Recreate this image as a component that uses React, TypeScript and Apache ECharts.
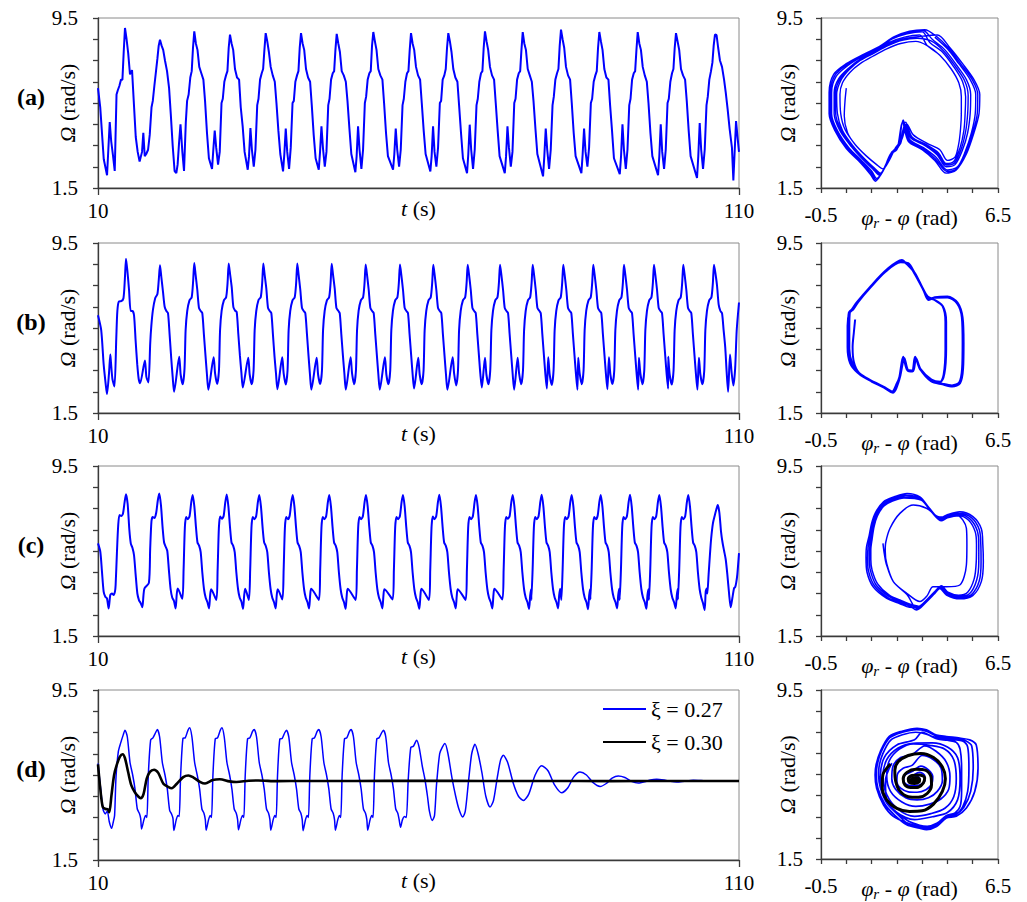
import React, { useEffect, useRef } from 'react';
import * as echarts from 'echarts';

const SERIF = 'Liberation Serif';
const BLUE = '#0000ff';
const BLACK = '#000000';

// ---------- axis ticks, labels and names ----------
const T_TICKS = [10, 110];
const OMEGA_TICKS = [1.5, 2.5, 3.5, 4.5, 5.5, 6.5, 7.5, 8.5, 9.5];
const OMEGA_LABELS = [1.5, 9.5];
const PHASE_TICKS = [-0.5, 0.5, 1.5, 2.5, 3.5, 4.5, 5.5, 6.5];
const PHASE_LABELS = [-0.5, 6.5];
const PANEL_LABELS = ['(a)', '(b)', '(c)', '(d)'];
const LEGEND_NAMES = ['ξ = 0.27', 'ξ = 0.30'];

// ---------- (a) Ω(t): each cycle is sampled at fixed offsets (s) around its peak ----------
const A_HEAD = [[10, 6.2], [10.35, 5.3], [10.9, 2.85]];
const A_OFFSETS = [-2.8, -2.6, -2.38, -2.15, -1.86, -1.6, -1.32, -1.12, -0.88, -0.62, -0.4, -0.2, 0, 0.25, 0.5, 0.78, 1.1, 1.42, 1.68, 1.98, 2.28];
const A_PEAK_T = [14.21, 19.67, 25.02, 30.59, 36.16, 41.67, 47.24, 52.95, 58.83, 64.65, 70.37, 76.26, 82.23, 88.21, 94.2, 100.17, 106.25];
const A_CYCLES = [
  [2.1, 3.3, 4.6, 3.7, 3.0, 2.3, 5.9, 6.1, 6.3, 6.6, 6.6, 7.9, 9.03, 8.5, 7.85, 6.85, 7.05, 5.3, 3.9, 3.2, 2.75],
  [3.2, 4.1, 3.0, 3.1, 3.3, 4.0, 5.3, 5.6, 6.3, 7.0, 7.6, 8.2, 8.48, 8.2, 8.0, 7.5, 7.0, 6.2, 5.0, 3.5, 2.3],
  [2.2, 2.6, 3.6, 4.5, 3.2, 2.3, 4.6, 5.6, 5.9, 6.7, 7.0, 8.1, 8.87, 8.3, 8.0, 7.2, 6.9, 6.6, 5.6, 4.1, 2.9],
  [2.4, 3.3, 4.2, 3.4, 2.6, 3.2, 5.5, 5.7, 6.5, 6.8, 7.0, 8.1, 8.72, 8.3, 8.0, 7.1, 6.7, 6.6, 5.3, 4.4, 3.2],
  [2.36, 3.0, 4.32, 3.3, 2.5, 3.3, 5.4, 5.7, 6.6, 6.9, 7.1, 8.0, 8.79, 8.4, 7.9, 7.2, 6.8, 6.5, 5.5, 4.2, 3.1],
  [2.28, 3.1, 4.3, 3.2, 2.4, 3.4, 5.5, 5.6, 6.5, 6.8, 7.0, 8.1, 8.79, 8.3, 8.0, 7.1, 6.7, 6.5, 5.4, 4.0, 2.9],
  [2.36, 3.2, 4.4, 3.4, 2.5, 3.2, 5.4, 5.7, 6.6, 6.9, 7.0, 8.0, 8.75, 8.3, 7.9, 7.0, 6.8, 6.5, 5.6, 4.3, 3.1],
  [2.24, 3.0, 4.4, 3.3, 2.4, 3.3, 5.5, 5.8, 6.6, 6.9, 7.0, 8.2, 8.84, 8.4, 8.0, 7.1, 6.8, 6.6, 5.5, 4.1, 3.0],
  [2.36, 3.1, 4.3, 3.3, 2.5, 3.3, 5.4, 5.7, 6.5, 6.9, 7.0, 8.0, 8.79, 8.3, 8.0, 7.2, 6.8, 6.6, 5.5, 4.2, 3.1],
  [2.28, 3.0, 4.4, 3.2, 2.5, 3.4, 5.5, 5.6, 6.6, 6.8, 7.1, 8.1, 8.79, 8.4, 7.9, 7.1, 6.7, 6.5, 5.4, 4.1, 2.9],
  [2.2, 3.1, 4.48, 3.3, 2.4, 3.3, 5.4, 5.7, 6.5, 6.9, 7.0, 8.1, 8.87, 8.4, 8.0, 7.2, 6.8, 6.6, 5.5, 4.2, 3.0],
  [2.2, 3.0, 4.4, 3.4, 2.5, 3.2, 5.5, 5.7, 6.6, 6.9, 7.0, 8.0, 8.84, 8.3, 8.0, 7.1, 6.8, 6.5, 5.6, 4.3, 3.1],
  [2.05, 3.0, 4.3, 3.3, 2.4, 3.3, 5.4, 5.8, 6.6, 6.9, 7.1, 8.2, 8.95, 8.5, 8.1, 7.2, 6.8, 6.6, 5.5, 4.1, 3.0],
  [2.2, 3.1, 4.3, 3.2, 2.5, 3.4, 5.5, 5.7, 6.5, 6.8, 7.0, 8.1, 8.84, 8.4, 8.0, 7.1, 6.7, 6.6, 5.4, 4.2, 2.9],
  [2.15, 3.0, 4.5, 3.3, 2.4, 3.3, 5.4, 5.7, 6.6, 6.9, 7.0, 8.0, 8.84, 8.3, 8.0, 7.2, 6.8, 6.5, 5.5, 4.1, 3.0],
  [2.1, 3.0, 4.5, 3.2, 2.4, 3.3, 5.5, 5.7, 6.5, 6.9, 7.1, 8.1, 8.79, 8.4, 8.0, 7.1, 6.8, 6.6, 5.6, 4.2, 3.0],
  [1.97, 3.0, 4.56, 3.3, 2.4, 3.3, 5.4, 5.8, 6.6, 7.0, 7.4, 8.2, 8.72, 8.7, 8.1, 7.5, 7.2, 6.6, 6.0, 5.2, 4.3],
];
const A_TAIL = [[108.9, 3.4], [109.12, 1.85], [109.54, 4.65], [109.8, 3.8], [110, 3.2]];

// ---------- (b) Ω(t) ----------
const B_HEAD = [[10, 6.1], [10.5, 5.4], [10.88, 3.8], [11.2, 2.86], [11.4, 2.39], [11.71, 3.34], [11.92, 4.25]];
const B_OFFSETS = [-2.35, -2.12, -1.8, -1.52, -1.35, -1.1, -0.75, -0.4, -0.18, 0, 0.21, 0.47, 0.73, 1.0, 1.25, 1.5, 1.75, 1.98, 2.2];
const B_PEAK_T = [14.37, 19.67, 25.02, 30.39, 35.79, 41.09, 46.46, 51.76, 57.11, 62.31, 67.68, 72.72, 77.82, 82.59, 87.27, 92.06, 96.74, 101.31, 106.1];
const B_CYCLES = [
  [3.9, 3.1, 2.75, 5.0, 6.3, 6.75, 6.76, 6.9, 7.8, 8.76, 8.2, 7.3, 6.3, 6.3, 6.1, 4.9, 3.8, 3.1, 2.9],
  [3.97, 3.2, 2.94, 4.8, 5.6, 6.35, 6.9, 7.1, 7.8, 8.45, 7.9, 7.2, 6.5, 6.3, 6.2, 5.2, 4.1, 3.2, 2.5],
  [4.15, 3.3, 2.85, 3.6, 5.4, 6.3, 6.8, 6.95, 7.7, 8.56, 8.0, 7.3, 6.45, 6.3, 6.2, 5.2, 4.2, 3.3, 2.6],
  [4.12, 3.35, 2.86, 3.5, 5.38, 6.32, 6.8, 6.95, 7.6, 8.53, 8.05, 7.42, 6.48, 6.32, 6.25, 5.22, 4.2, 3.4, 2.7],
  [4.1, 3.3, 2.85, 3.5, 5.4, 6.3, 6.82, 6.95, 7.6, 8.53, 8.0, 7.35, 6.45, 6.3, 6.2, 5.2, 4.15, 3.35, 2.62],
  [4.12, 3.35, 2.84, 3.5, 5.4, 6.3, 6.8, 6.95, 7.6, 8.53, 8.0, 7.3, 6.45, 6.3, 6.2, 5.25, 4.2, 3.3, 2.6],
  [4.1, 3.3, 2.86, 3.5, 5.4, 6.3, 6.8, 6.95, 7.6, 8.52, 8.0, 7.35, 6.45, 6.32, 6.2, 5.2, 4.2, 3.35, 2.6],
  [4.12, 3.35, 2.85, 3.5, 5.38, 6.32, 6.8, 6.95, 7.6, 8.49, 8.0, 7.3, 6.45, 6.3, 6.2, 5.2, 4.2, 3.3, 2.6],
  [4.12, 3.3, 2.85, 3.5, 5.4, 6.3, 6.8, 6.95, 7.6, 8.49, 8.0, 7.3, 6.45, 6.3, 6.2, 5.2, 4.2, 3.3, 2.65],
  [4.1, 3.3, 2.85, 3.5, 5.4, 6.3, 6.8, 6.95, 7.6, 8.48, 8.0, 7.3, 6.45, 6.3, 6.2, 5.2, 4.2, 3.3, 2.6],
  [4.12, 3.35, 2.8, 3.5, 5.4, 6.3, 6.8, 6.95, 7.6, 8.48, 8.0, 7.3, 6.45, 6.3, 6.2, 5.2, 4.2, 3.3, 2.7],
  [4.1, 3.3, 2.85, 3.55, 5.4, 6.3, 6.8, 6.95, 7.6, 8.48, 8.0, 7.3, 6.45, 6.3, 6.2, 5.2, 4.2, 3.3, 2.6],
  [4.1, 3.35, 2.85, 3.5, 5.38, 6.3, 6.8, 6.95, 7.6, 8.48, 8.0, 7.3, 6.45, 6.32, 6.2, 5.2, 4.2, 3.3, 2.65],
  [4.12, 3.3, 2.82, 3.5, 5.4, 6.3, 6.8, 6.95, 7.6, 8.48, 8.0, 7.3, 6.45, 6.3, 6.2, 5.2, 4.2, 3.3, 2.6],
  [4.1, 3.35, 2.85, 3.5, 5.4, 6.32, 6.8, 6.95, 7.6, 8.48, 8.0, 7.3, 6.45, 6.3, 6.2, 5.2, 4.2, 3.3, 2.62],
  [4.12, 3.3, 2.86, 3.5, 5.4, 6.3, 6.8, 6.95, 7.6, 8.48, 8.0, 7.3, 6.45, 6.3, 6.2, 5.2, 4.2, 3.3, 2.6],
  [4.1, 3.35, 2.85, 3.5, 5.4, 6.3, 6.8, 6.95, 7.6, 8.48, 8.0, 7.3, 6.45, 6.3, 6.2, 5.2, 4.2, 3.3, 2.65],
  [4.15, 3.3, 2.84, 3.5, 5.4, 6.3, 6.8, 6.95, 7.6, 8.48, 8.0, 7.3, 6.45, 6.3, 6.2, 5.2, 4.2, 3.3, 2.6],
  [4.1, 3.3, 2.85, 3.5, 5.4, 6.3, 6.8, 6.95, 7.6, 8.48, 8.1, 7.5, 6.6, 6.3, 6.2, 5.4, 4.6, 3.4, 2.5],
];
const B_TAIL = [[108.6, 4.25], [108.85, 3.4], [109.12, 2.79], [109.4, 3.6], [109.64, 5.38], [110, 6.7]];

// ---------- (c) Ω(t) ----------
const C_HEAD = [[10, 5.86], [10.36, 5.47], [10.62, 4.53], [10.88, 3.59], [11.14, 3.35], [11.4, 3.27], [11.66, 2.8], [11.92, 3.43], [12.18, 3.5], [12.44, 3.43], [12.65, 3.6]];
const C_OFFSETS = [-1.62, -1.42, -1.22, -1.02, -0.75, -0.48, -0.22, 0, 0.26, 0.52, 0.75, 1.0, 1.25, 1.5, 1.77, 2.03, 2.29, 2.55, 2.72, 2.88];
const C_PEAK_T = [14.37, 19.56, 24.77, 30.08, 35.16, 40.38, 46.08, 51.81, 57.58, 63.25, 68.97, 74.7, 79.22, 83.9, 88.43, 93.0, 97.57, 102.09, 106.68];
const C_CYCLES = [
  [3.9, 5.4, 6.7, 7.2, 7.15, 7.25, 7.8, 8.17, 7.7, 6.5, 5.85, 5.65, 5.3, 4.4, 3.5, 3.18, 3.05, 2.85, 3.4, 3.74],
  [4.0, 5.6, 6.9, 7.1, 7.05, 7.3, 7.9, 8.21, 7.66, 6.6, 5.9, 5.7, 5.5, 4.6, 3.7, 3.3, 3.15, 2.8, 3.45, 3.74],
  [3.25, 4.6, 6.6, 7.1, 7.0, 7.15, 7.8, 8.14, 7.6, 6.6, 5.9, 5.75, 5.45, 4.5, 3.7, 3.3, 3.1, 2.8, 3.4, 3.7],
  [3.2, 4.6, 6.6, 7.12, 7.02, 7.15, 7.8, 8.16, 7.6, 6.6, 5.9, 5.75, 5.45, 4.5, 3.7, 3.3, 3.12, 2.78, 3.4, 3.72],
  [3.2, 4.6, 6.6, 7.1, 7.0, 7.15, 7.8, 8.14, 7.6, 6.6, 5.92, 5.75, 5.45, 4.5, 3.7, 3.3, 3.1, 2.8, 3.4, 3.7],
  [3.22, 4.6, 6.6, 7.1, 7.0, 7.16, 7.8, 8.14, 7.6, 6.6, 5.9, 5.74, 5.45, 4.5, 3.7, 3.3, 3.1, 2.8, 3.42, 3.72],
  [3.2, 4.6, 6.6, 7.1, 7.0, 7.15, 7.8, 8.14, 7.6, 6.6, 5.9, 5.75, 5.45, 4.5, 3.7, 3.3, 3.1, 2.78, 3.4, 3.72],
  [3.2, 4.6, 6.6, 7.1, 7.0, 7.15, 7.8, 8.14, 7.6, 6.6, 5.9, 5.75, 5.45, 4.5, 3.7, 3.3, 3.1, 2.8, 3.4, 3.7],
  [3.22, 4.6, 6.6, 7.1, 7.0, 7.15, 7.8, 8.14, 7.6, 6.6, 5.9, 5.75, 5.45, 4.5, 3.7, 3.3, 3.1, 2.78, 3.4, 3.72],
  [3.2, 4.6, 6.6, 7.12, 7.0, 7.15, 7.8, 8.15, 7.6, 6.6, 5.9, 5.75, 5.45, 4.5, 3.7, 3.3, 3.1, 2.8, 3.4, 3.7],
  [3.2, 4.6, 6.6, 7.1, 7.0, 7.15, 7.8, 8.14, 7.6, 6.6, 5.9, 5.75, 5.45, 4.5, 3.7, 3.3, 3.1, 2.8, 3.42, 3.72],
  [3.22, 4.6, 6.6, 7.1, 7.02, 7.15, 7.8, 8.14, 7.6, 6.6, 5.9, 5.75, 5.45, 4.5, 3.7, 3.3, 3.1, 2.78, 3.4, 3.7],
  [3.2, 4.6, 6.6, 7.1, 7.0, 7.15, 7.8, 8.15, 7.6, 6.6, 5.9, 5.75, 5.45, 4.5, 3.7, 3.3, 3.1, 2.8, 3.4, 3.72],
  [3.2, 4.6, 6.6, 7.1, 7.0, 7.15, 7.8, 8.14, 7.6, 6.6, 5.9, 5.75, 5.45, 4.5, 3.7, 3.3, 3.1, 2.76, 3.4, 3.7],
  [3.22, 4.6, 6.6, 7.1, 7.0, 7.16, 7.8, 8.14, 7.6, 6.6, 5.9, 5.75, 5.45, 4.5, 3.7, 3.3, 3.1, 2.8, 3.4, 3.72],
  [3.2, 4.6, 6.6, 7.1, 7.0, 7.15, 7.8, 8.15, 7.6, 6.6, 5.9, 5.75, 5.45, 4.5, 3.7, 3.3, 3.1, 2.78, 3.42, 3.7],
  [3.2, 4.6, 6.6, 7.1, 7.0, 7.15, 7.8, 8.14, 7.6, 6.6, 5.9, 5.75, 5.45, 4.5, 3.7, 3.3, 3.1, 2.8, 3.4, 3.72],
  [3.22, 4.6, 6.6, 7.1, 7.0, 7.15, 7.8, 8.14, 7.6, 6.6, 5.9, 5.75, 5.45, 4.5, 3.7, 3.3, 3.05, 2.72, 3.6, 3.74],
  [3.5, 4.4, 5.3, 6.1, 6.8, 7.15, 7.45, 7.66, 7.3, 6.4, 5.9, 5.5, 5.1, 4.4, 3.5, 2.85, 3.3, 3.75, 3.8, 4.0],
];
const C_TAIL = [[109.74, 4.4], [110, 5.4]];

// ---------- (d) Ω(t), ξ = 0.27 (steady cycles, then a decaying tail) ----------
const D_HEAD = [[10, 6.04], [10.36, 5.0], [10.78, 3.9], [11.14, 3.67], [11.45, 3.8]];
const D_OFFSETS = [-2.45, -2.08, -1.82, -1.62, -1.4, -1.04, -0.68, -0.26, 0, 0.36, 0.78, 1.2, 1.56, 1.92, 2.24, 2.45];
const D_PEAK_T = [14.21, 19.25, 24.29, 29.33, 34.37, 39.41, 44.45, 49.49, 54.53];
const D_CYCLES = [
  [3.3, 2.99, 3.3, 3.6, 5.4, 6.6, 7.0, 7.4, 7.61, 7.3, 6.1, 5.5, 4.85, 3.9, 3.7, 3.45],
  [2.96, 3.4, 3.6, 3.5, 5.5, 7.14, 7.25, 7.5, 7.64, 7.3, 6.1, 5.5, 4.85, 3.85, 3.65, 3.45],
  [2.89, 3.4, 3.6, 3.55, 5.48, 7.22, 7.25, 7.6, 7.72, 7.3, 6.1, 5.48, 4.85, 3.9, 3.7, 3.4],
  [2.9, 3.4, 3.6, 3.5, 5.5, 7.2, 7.25, 7.6, 7.72, 7.3, 6.1, 5.5, 4.85, 3.9, 3.7, 3.4],
  [2.92, 3.4, 3.6, 3.5, 5.5, 7.2, 7.25, 7.55, 7.64, 7.3, 6.1, 5.5, 4.85, 3.9, 3.7, 3.4],
  [2.9, 3.4, 3.6, 3.5, 5.5, 7.2, 7.22, 7.5, 7.61, 7.28, 6.1, 5.5, 4.85, 3.9, 3.7, 3.4],
  [2.88, 3.4, 3.6, 3.5, 5.5, 7.2, 7.25, 7.55, 7.64, 7.3, 6.1, 5.5, 4.85, 3.9, 3.7, 3.4],
  [2.9, 3.4, 3.6, 3.5, 5.5, 7.2, 7.25, 7.55, 7.64, 7.3, 6.1, 5.5, 4.85, 3.9, 3.7, 3.4],
  [2.9, 3.4, 3.6, 3.5, 5.5, 7.2, 7.25, 7.5, 7.61, 7.3, 6.1, 5.5, 4.85, 3.9, 3.7, 3.4],
];
const D_DECAY = [
  [57.2, 3.04], [57.5, 3.4], [57.8, 3.55], [58.1, 3.5], [58.4, 5.3], [58.8, 6.8], [59.2, 6.85], [59.71, 7.14],
  [60.1, 6.8], [60.6, 5.9], [61.0, 5.3], [61.4, 4.5], [61.7, 3.8], [62.15, 3.36], [62.5, 3.6], [62.8, 5.0],
  [63.3, 6.5], [63.7, 6.8], [64.13, 6.98], [64.6, 6.5], [65.2, 5.4], [65.8, 4.5], [66.3, 3.9], [66.9, 3.52],
  [67.3, 3.8], [67.8, 5.2], [68.3, 6.5], [68.81, 6.95], [69.3, 6.5], [69.9, 5.6], [70.5, 4.5], [71.16, 3.99],
  [71.7, 4.3], [72.3, 5.4], [72.8, 6.2], [73.23, 6.43], [73.9, 6.1], [74.8, 5.1], [75.6, 4.5], [76.36, 4.3],
  [77.2, 4.6], [78.2, 5.5], [79.22, 5.93], [80.2, 5.7], [81.2, 5.05], [82.34, 4.66], [83.3, 4.9], [84.2, 5.4],
  [85.2, 5.64], [86.2, 5.5], [87.2, 5.15], [88.32, 4.96], [89.3, 5.1], [90.2, 5.35], [91.17, 5.45], [92.2, 5.38],
  [93.2, 5.2], [94.29, 5.12], [95.3, 5.18], [96.2, 5.27], [97.16, 5.3], [98.3, 5.26], [99.3, 5.2], [100.28, 5.17],
  [101.5, 5.21], [102.87, 5.25], [104.5, 5.23], [106, 5.21], [108, 5.22], [110, 5.22],
];
// ---------- (d) Ω(t), ξ = 0.30 ----------
const D_BLACK = [
  [10, 6.0], [10.36, 4.85], [10.75, 3.99], [11.2, 3.9], [11.55, 3.88], [11.76, 3.75], [12.1, 4.54], [12.5, 5.48],
  [12.9, 5.95], [13.4, 6.35], [13.85, 6.48], [14.2, 6.3], [14.7, 5.64], [15.2, 5.01], [15.75, 4.69], [16.25, 4.5],
  [16.66, 4.41], [17.1, 4.6], [17.6, 5.33], [18.1, 5.65], [18.74, 5.75], [19.4, 5.6], [20.2, 5.09], [21.0, 4.93],
  [21.5, 4.88], [22.3, 5.09], [23.3, 5.4], [24.1, 5.48], [24.9, 5.38], [25.9, 5.18], [26.7, 5.1], [27.9, 5.26],
  [29.0, 5.3], [30.5, 5.2], [31.6, 5.17], [33.5, 5.23], [35, 5.24], [38, 5.21], [42, 5.22], [50, 5.22],
  [60, 5.23], [70, 5.22], [80, 5.22], [90, 5.21], [100, 5.22], [110, 5.22],
];

// ---------- phase portraits: [φr − φ, Ω] ----------
const PA_START = [[0.5, 6.2], [0.45, 5.6], [0.42, 4.9], [0.55, 4.1], [0.85, 3.55], [1.3, 3.0], [1.7, 2.6], [1.95, 2.4], [2.2, 2.8], [2.45, 3.4], [2.7, 3.8], [2.9, 4.5], [3.15, 4.0], [3.7, 3.6], [4.2, 3.3], [4.5, 2.8], [4.8, 2.95], [4.95, 3.6], [5.02, 4.3], [5.05, 5.0], [5.05, 5.8], [4.95, 6.45], [4.65, 7.1], [4.2, 7.75], [3.7, 8.2]];
const PA_LOOPS = [
  [[3.25, 8.4], [2.65, 8.3], [2.1, 8.05], [1.55, 7.7], [1.05, 7.35], [0.65, 6.95], [0.35, 6.45], [0.25, 5.9], [0.28, 5.0], [0.45, 4.25], [0.85, 3.55], [1.3, 3.0], [1.7, 2.6], [1.95, 2.4], [2.2, 2.8], [2.45, 3.4], [2.7, 3.8], [2.9, 4.5], [3.15, 4.0], [3.7, 3.6], [4.2, 3.3], [4.5, 2.8], [4.8, 2.95], [4.95, 3.6], [5.02, 4.3], [5.05, 5.0], [5.05, 5.8], [4.95, 6.45], [4.65, 7.1], [4.2, 7.75], [3.7, 8.2]],
  [[3.4, 8.7], [2.8, 8.6], [2.2, 8.35], [1.7, 7.95], [1.1, 7.6], [0.6, 7.15], [0.2, 6.65], [0.02, 6.0], [0.02, 5.0], [0.25, 4.2], [0.7, 3.45], [1.15, 2.85], [1.55, 2.4], [1.8, 2.1], [2.05, 2.55], [2.35, 3.25], [2.6, 3.5], [2.8, 4.4], [3.05, 3.85], [3.6, 3.5], [4.1, 3.05], [4.45, 2.5], [4.8, 2.6], [5.1, 3.3], [5.3, 4.1], [5.4, 5.0], [5.42, 5.9], [5.25, 6.6], [4.85, 7.3], [4.4, 8.0], [3.9, 8.5]],
  [[3.55, 8.9], [2.95, 8.82], [2.35, 8.56], [1.78, 8.1], [1.18, 7.75], [0.52, 7.3], [0.05, 6.8], [-0.13, 6.0], [-0.13, 5.0], [0.1, 4.2], [0.55, 3.38], [1.08, 2.75], [1.48, 2.22], [1.68, 1.88], [1.98, 2.35], [2.28, 3.15], [2.52, 3.35], [2.74, 4.65], [2.97, 3.75], [3.52, 3.35], [4.02, 2.88], [4.48, 2.28], [4.88, 2.42], [5.22, 3.15], [5.5, 4.1], [5.68, 5.0], [5.7, 5.9], [5.48, 6.6], [5.02, 7.35], [4.55, 8.08], [4.05, 8.65]],
  [[3.6, 8.95], [3.0, 8.88], [2.4, 8.62], [1.8, 8.15], [1.2, 7.8], [0.5, 7.35], [0.0, 6.85], [-0.18, 6.0], [-0.18, 5.0], [0.05, 4.2], [0.5, 3.35], [1.05, 2.7], [1.45, 2.15], [1.65, 1.82], [1.95, 2.3], [2.25, 3.1], [2.5, 3.3], [2.72, 4.6], [2.95, 3.7], [3.5, 3.3], [4.0, 2.8], [4.45, 2.2], [4.85, 2.35], [5.25, 3.1], [5.55, 4.1], [5.75, 5.0], [5.78, 5.9], [5.55, 6.6], [5.1, 7.35], [4.6, 8.1], [4.1, 8.7]],
  [[3.35, 8.62], [2.75, 8.52], [2.18, 8.28], [1.65, 7.9], [1.08, 7.55], [0.6, 7.1], [0.24, 6.6], [0.07, 5.95], [0.08, 5.0], [0.3, 4.2], [0.72, 3.48], [1.18, 2.88], [1.58, 2.42], [1.82, 2.15], [2.08, 2.62], [2.38, 3.28], [2.62, 3.55], [2.82, 4.5], [3.08, 3.88], [3.62, 3.52], [4.12, 3.1], [4.45, 2.58], [4.78, 2.68], [5.05, 3.35], [5.22, 4.15], [5.3, 5.0], [5.32, 5.85], [5.18, 6.55], [4.8, 7.25], [4.35, 7.95], [3.85, 8.42]],
  [[3.3, 8.55], [2.7, 8.45], [2.15, 8.2], [1.6, 7.85], [1.05, 7.5], [0.6, 7.05], [0.28, 6.55], [0.12, 5.9], [0.15, 5.0], [0.35, 4.2], [0.75, 3.5], [1.2, 2.9], [1.6, 2.45], [1.85, 2.2], [2.1, 2.7], [2.4, 3.3], [2.65, 3.6], [2.85, 4.6], [3.1, 3.9], [3.65, 3.55], [4.15, 3.15], [4.45, 2.65], [4.75, 2.75], [5.0, 3.4], [5.15, 4.2], [5.2, 5.0], [5.22, 5.8], [5.1, 6.5], [4.75, 7.2], [4.3, 7.9], [3.8, 8.35]],
  [[3.5, 8.85], [2.9, 8.75], [2.3, 8.5], [1.75, 8.05], [1.15, 7.7], [0.55, 7.25], [0.1, 6.75], [-0.08, 6.0], [-0.08, 5.0], [0.15, 4.2], [0.6, 3.4], [1.1, 2.8], [1.5, 2.3], [1.7, 1.95], [2.0, 2.4], [2.3, 3.2], [2.55, 3.4], [2.75, 4.7], [3.0, 3.8], [3.55, 3.4], [4.05, 2.95], [4.5, 2.35], [4.9, 2.5], [5.2, 3.2], [5.45, 4.1], [5.6, 5.0], [5.62, 5.9], [5.4, 6.6], [4.95, 7.35], [4.5, 8.05], [4.0, 8.6]],
];

const PB_START = [[0.85, 5.9], [0.8, 5.3], [0.75, 4.6], [0.8, 3.9], [1.0, 3.4], [1.5, 3.0], [1.95, 2.75], [2.35, 2.45], [2.55, 2.95], [2.62, 3.25], [2.78, 4.1], [2.92, 3.5], [3.12, 3.45], [3.24, 4.1], [3.42, 3.55], [3.85, 3.05], [4.2, 2.95], [4.35, 3.3], [4.42, 4.5], [4.42, 5.8], [4.3, 6.55], [3.95, 6.85], [3.7, 7.0], [3.5, 7.4], [3.2, 8.1], [2.9, 8.5]];
const PB_LOOPS = [
  [[2.7, 8.7], [2.1, 8.25], [1.45, 7.45], [0.95, 6.75], [0.75, 6.4], [0.62, 6.25], [0.55, 5.6], [0.55, 4.6], [0.65, 3.85], [0.95, 3.4], [1.45, 3.05], [1.9, 2.78], [2.3, 2.5], [2.5, 2.9], [2.6, 3.2], [2.75, 4.15], [2.9, 3.55], [3.1, 3.5], [3.22, 4.15], [3.4, 3.6], [3.85, 3.0], [4.3, 2.85], [4.7, 2.75], [5.0, 2.9], [5.12, 3.6], [5.14, 4.8], [5.1, 6.0], [4.9, 6.7], [4.5, 6.98], [4.0, 6.95], [3.75, 6.85], [3.55, 7.3], [3.2, 8.1], [2.95, 8.55]],
  [[2.65, 8.6], [2.05, 8.15], [1.45, 7.4], [0.95, 6.7], [0.75, 6.35], [0.62, 6.2], [0.6, 5.5], [0.6, 4.5], [0.72, 3.8], [1.0, 3.35], [1.5, 2.98], [1.95, 2.72], [2.35, 2.45], [2.55, 2.95], [2.62, 3.25], [2.78, 4.1], [2.92, 3.5], [3.12, 3.45], [3.24, 4.1], [3.42, 3.55], [3.85, 3.05], [4.2, 2.95], [4.35, 3.3], [4.42, 4.5], [4.42, 5.8], [4.3, 6.55], [3.95, 6.85], [3.7, 7.0], [3.5, 7.4], [3.2, 8.1], [2.9, 8.5]],
  [[2.68, 8.65], [2.08, 8.2], [1.42, 7.4], [0.92, 6.72], [0.72, 6.38], [0.6, 6.22], [0.57, 5.55], [0.58, 4.55], [0.68, 3.82], [0.98, 3.38], [1.47, 3.02], [1.92, 2.75], [2.32, 2.47], [2.52, 2.92], [2.62, 3.22], [2.76, 4.12], [2.91, 3.52], [3.11, 3.48], [3.23, 4.12], [3.41, 3.58], [3.86, 3.02], [4.3, 2.88], [4.68, 2.8], [4.97, 2.95], [5.08, 3.6], [5.1, 4.8], [5.07, 6.0], [4.88, 6.66], [4.5, 6.93], [4.0, 6.92], [3.75, 6.82], [3.55, 7.28], [3.2, 8.05], [2.95, 8.5]],
  [[2.67, 8.62], [2.07, 8.18], [1.47, 7.42], [0.97, 6.72], [0.77, 6.37], [0.64, 6.22], [0.62, 5.52], [0.62, 4.52], [0.74, 3.82], [1.02, 3.37], [1.52, 3.0], [1.97, 2.74], [2.37, 2.48], [2.57, 2.97], [2.64, 3.27], [2.8, 4.08], [2.94, 3.52], [3.14, 3.47], [3.26, 4.08], [3.44, 3.57], [3.87, 3.07], [4.22, 2.97], [4.38, 3.35], [4.45, 4.5], [4.45, 5.8], [4.32, 6.52], [3.97, 6.83], [3.72, 6.98], [3.52, 7.38], [3.22, 8.08], [2.92, 8.48]],
];

const PC_START = [[1.95, 5.86], [2.0, 5.4], [2.08, 4.9]];
const PC_LOOPS = [
  [[2.36, 4.06], [2.89, 3.51], [3.41, 3.12], [3.7, 3.4], [3.93, 3.82], [4.46, 3.82], [4.99, 3.9], [5.25, 4.84], [5.27, 5.8], [5.25, 6.57], [4.86, 7.2], [4.2, 7.1], [3.67, 7.51], [3.15, 7.66], [2.62, 7.27], [2.23, 6.57], [2.06, 5.9], [2.04, 5.5], [2.1, 4.9]],
  [[2.36, 4.06], [2.9, 3.45], [3.3, 2.78]],
  [[3.68, 3.15], [4.0, 3.55], [4.22, 3.78], [4.48, 3.48], [4.98, 3.3], [5.45, 3.45], [5.76, 4.1], [5.83, 5.0], [5.82, 5.8], [5.76, 6.5], [5.46, 7.06], [4.98, 7.28], [4.47, 7.14], [4.22, 7.0], [3.82, 7.45], [3.42, 8.0], [2.85, 8.12], [2.38, 7.98], [1.97, 7.75], [1.67, 7.25], [1.53, 6.75], [1.44, 6.15], [1.36, 5.65], [1.34, 5.2], [1.38, 4.55], [1.62, 3.85], [2.13, 3.32], [2.64, 3.06], [3.02, 2.9], [3.28, 2.72]],
  [[3.67, 3.1], [4.0, 3.5], [4.2, 3.74], [4.46, 3.43], [4.99, 3.25], [5.5, 3.4], [5.84, 4.06], [5.92, 5.0], [5.9, 5.8], [5.84, 6.55], [5.51, 7.12], [4.99, 7.35], [4.46, 7.19], [4.2, 7.04], [3.8, 7.5], [3.41, 8.05], [2.9, 8.21], [2.4, 8.05], [1.97, 7.82], [1.65, 7.3], [1.5, 6.8], [1.4, 6.2], [1.3, 5.7], [1.28, 5.2], [1.32, 4.5], [1.57, 3.8], [2.1, 3.27], [2.62, 3.02], [3.0, 2.85], [3.32, 2.84]],
  [[3.7, 3.2], [4.02, 3.6], [4.24, 3.82], [4.5, 3.52], [4.96, 3.36], [5.38, 3.5], [5.66, 4.15], [5.74, 5.0], [5.74, 5.8], [5.68, 6.45], [5.4, 7.0], [4.96, 7.22], [4.48, 7.1], [4.24, 6.96], [3.84, 7.4], [3.44, 7.95], [2.8, 8.05], [2.35, 7.9], [1.98, 7.68], [1.7, 7.2], [1.56, 6.7], [1.48, 6.1], [1.42, 5.6], [1.41, 5.15], [1.45, 4.6], [1.68, 3.9], [2.17, 3.38], [2.67, 3.1], [3.04, 2.95], [3.34, 2.88]],
  [[3.72, 3.25], [4.04, 3.64], [4.26, 3.86], [4.52, 3.56], [4.94, 3.42], [5.3, 3.56], [5.56, 4.2], [5.64, 5.0], [5.65, 5.8], [5.6, 6.4], [5.34, 6.95], [4.94, 7.16], [4.5, 7.06], [4.26, 6.92], [3.86, 7.35], [3.46, 7.9], [2.78, 8.0], [2.33, 7.85], [1.99, 7.62], [1.73, 7.15], [1.6, 6.65], [1.52, 6.05], [1.47, 5.55], [1.47, 5.1], [1.52, 4.6], [1.74, 3.95], [2.2, 3.42], [2.7, 3.15], [3.06, 2.98], [3.36, 2.9]],
];

const PD_START = [[2.3, 6.04], [2.05, 5.2], [2.1, 4.2], [2.5, 3.7]];
const PD_LOOPS = [
  [[2.95, 3.3], [3.4, 3.1], [3.7, 3.05], [4.1, 3.2], [4.45, 3.55], [4.8, 3.68], [5.0, 3.98], [5.06, 4.7], [5.06, 5.8], [5.0, 6.7], [4.85, 7.02], [4.5, 7.12], [4.1, 7.18], [3.7, 7.4], [3.25, 7.5], [2.72, 7.38], [2.25, 7.12], [1.95, 6.5], [1.8, 5.9], [1.78, 5.45], [1.85, 4.86], [2.1, 4.15], [2.5, 3.65]],
  [[2.92, 3.18], [3.42, 3.0], [3.69, 2.95], [4.08, 3.1], [4.45, 3.5], [4.82, 3.6], [5.15, 3.95], [5.42, 4.7], [5.52, 5.8], [5.46, 6.85], [5.22, 7.1], [4.9, 7.18], [4.42, 7.26], [4.05, 7.33], [3.66, 7.55], [3.28, 7.62], [2.72, 7.5], [2.22, 7.24], [1.88, 6.58], [1.72, 5.94], [1.69, 5.46], [1.75, 4.85], [2.02, 4.1], [2.42, 3.57]],
  [[2.89, 3.12], [3.4, 2.96], [3.67, 2.89], [4.07, 3.04], [4.46, 3.44], [4.85, 3.52], [5.25, 3.91], [5.58, 4.69], [5.71, 5.8], [5.64, 6.9], [5.38, 7.14], [4.99, 7.22], [4.46, 7.3], [4.07, 7.37], [3.67, 7.61], [3.3, 7.69], [2.7, 7.55], [2.2, 7.3], [1.85, 6.6], [1.68, 5.96], [1.64, 5.48], [1.7, 4.85], [1.97, 4.07], [2.36, 3.52]],
  [[2.92, 3.2], [3.4, 3.02], [3.68, 2.97], [4.08, 3.12], [4.45, 3.52], [4.83, 3.62], [5.1, 3.96], [5.3, 4.7], [5.35, 5.8], [5.3, 6.8], [5.1, 7.08], [4.75, 7.15], [4.3, 7.22], [3.9, 7.3], [3.5, 7.5]],
  [[3.2, 7.14], [2.5, 6.9], [2.0, 6.3], [1.85, 5.4], [2.0, 4.5], [2.5, 3.7], [3.2, 3.36], [3.9, 3.5], [4.5, 3.7], [4.9, 4.3], [5.0, 5.3], [4.9, 6.3], [4.5, 6.8], [3.9, 7.0]],
  [[3.15, 6.98], [2.55, 6.75], [2.1, 6.2], [1.95, 5.4], [2.1, 4.55], [2.55, 3.85], [3.2, 3.52], [3.85, 3.65], [4.4, 3.9], [4.75, 4.45], [4.85, 5.3], [4.75, 6.2], [4.4, 6.7], [3.8, 6.88]],
  [[3.15, 6.95], [2.6, 6.7], [2.2, 6.15], [2.1, 5.4], [2.25, 4.7], [2.7, 4.2], [3.25, 3.99], [3.8, 4.1], [4.25, 4.35], [4.55, 4.8], [4.6, 5.4], [4.45, 6.1], [4.05, 6.6], [3.6, 6.85]],
  [[3.1, 6.43], [2.65, 6.3], [2.35, 5.9], [2.3, 5.3], [2.45, 4.8], [2.85, 4.4], [3.3, 4.3], [3.75, 4.4], [4.1, 4.7], [4.3, 5.2], [4.25, 5.8], [3.95, 6.2], [3.5, 6.4]],
  [[3.1, 5.93], [2.75, 5.8], [2.52, 5.5], [2.5, 5.15], [2.65, 4.85], [2.95, 4.68], [3.3, 4.66], [3.65, 4.78], [3.88, 5.05], [3.92, 5.4], [3.75, 5.72], [3.45, 5.9]],
  [[3.1, 5.64], [2.85, 5.5], [2.76, 5.25], [2.85, 5.05], [3.1, 4.96], [3.4, 5.0], [3.6, 5.2], [3.6, 5.45], [3.4, 5.6]],
  [[3.12, 5.45], [2.97, 5.33], [2.98, 5.18], [3.15, 5.12], [3.32, 5.17], [3.4, 5.3], [3.3, 5.42]],
  [[3.15, 5.3], [3.05, 5.25], [3.12, 5.18], [3.25, 5.22], [3.2, 5.28], [3.17, 5.25]],
];
const PD_BLACK = [
  [2.25, 6.0], [1.95, 5.5], [1.92, 4.9], [2.1, 4.3], [2.5, 3.9], [3.0, 3.75], [3.5, 3.78], [3.95, 4.1], [4.3, 4.7],
  [4.42, 5.3], [4.3, 5.85], [3.95, 6.3], [3.45, 6.5], [2.95, 6.4], [2.55, 6.1], [2.42, 5.7], [2.45, 5.2], [2.6, 4.75],
  [2.95, 4.45], [3.35, 4.42], [3.7, 4.6], [3.87, 5.0], [3.85, 5.4], [3.65, 5.7], [3.25, 5.75], [2.9, 5.6], [2.75, 5.3],
  [2.82, 5.0], [3.05, 4.88], [3.35, 4.9], [3.55, 5.1], [3.6, 5.35], [3.4, 5.48], [3.1, 5.46], [2.95, 5.3], [3.0, 5.12],
  [3.2, 5.07], [3.38, 5.15], [3.4, 5.28], [3.25, 5.35], [3.08, 5.3], [3.06, 5.2], [3.18, 5.14], [3.3, 5.2], [3.28, 5.3],
  [3.16, 5.32], [3.1, 5.25], [3.17, 5.19], [3.24, 5.24], [3.18, 5.27], [3.15, 5.24], [3.17, 5.25],
];

// ---------- layout ----------
const PANEL_TOPS = [18, 243, 466, 690];
const PANEL_H = 170;
const TIME_LEFT = 98;
const TIME_W = 641;
const PHASE_LEFT = 821;
const PHASE_W = 177;

function cyclesToPoints(peaks: number[], offsets: number[], cycles: number[][]): number[][] {
  const pts: number[][] = [];
  cycles.forEach((vals, k) => {
    vals.forEach((v, j) => pts.push([Math.round((peaks[k] + offsets[j]) * 100) / 100, v]));
  });
  return pts;
}

const AXIS_LINE = { color: '#3a3a3a', width: 1.3 };
const TICK_FONT = { fontFamily: SERIF, fontSize: 21, color: '#000' };
const RICH = {
  it: { fontFamily: SERIF, fontSize: 22, fontStyle: 'italic', color: '#000' },
  sub: { fontFamily: SERIF, fontSize: 15, fontStyle: 'italic', color: '#000', padding: [10, 0, 0, 0] },
};
const NAME_STYLE = { fontFamily: SERIF, fontSize: 22, color: '#000', rich: RICH };

function timeAxis(gridIndex: number) {
  return {
    type: 'value', gridIndex, min: 10, max: 110,
    axisLine: { show: true, onZero: false, lineStyle: AXIS_LINE },
    axisTick: { show: true, length: 7, customValues: T_TICKS, lineStyle: AXIS_LINE },
    axisLabel: { show: true, customValues: T_TICKS, margin: 12, ...TICK_FONT, formatter: (v: number) => String(v) },
    splitLine: { show: false },
    name: '{it|t} (s)', nameLocation: 'middle', nameGap: 9, nameMoveOverlap: false, nameTextStyle: NAME_STYLE,
  };
}
function phaseAxis(gridIndex: number) {
  return {
    type: 'value', gridIndex, min: -0.5, max: 6.5,
    axisLine: { show: true, onZero: false, lineStyle: AXIS_LINE },
    axisTick: { show: true, length: 5, customValues: PHASE_TICKS, lineStyle: AXIS_LINE },
    axisLabel: { show: true, customValues: PHASE_LABELS, margin: 16, ...TICK_FONT, formatter: (v: number) => v.toFixed(1) },
    splitLine: { show: false },
    name: '{it|φ}{sub|r} - {it|φ} (rad)', nameLocation: 'middle', nameGap: 17, nameMoveOverlap: false, nameTextStyle: NAME_STYLE,
  };
}
function omegaAxis(gridIndex: number, labelMargin: number, nameGap: number) {
  return {
    type: 'value', gridIndex, min: 1.5, max: 9.5,
    axisLine: { show: true, onZero: false, lineStyle: AXIS_LINE },
    axisTick: { show: true, length: 5, customValues: OMEGA_TICKS, lineStyle: AXIS_LINE },
    axisLabel: { show: true, customValues: OMEGA_LABELS, margin: labelMargin, ...TICK_FONT, formatter: (v: number) => v.toFixed(1) },
    splitLine: { show: false },
    name: '{it|Ω} (rad/s)', nameLocation: 'middle', nameRotate: 90, nameGap, nameMoveOverlap: false, nameTextStyle: NAME_STYLE,
  };
}

function lineSeries(axisIndex: number, data: number[][], color: string, width: number, smooth: number | boolean, name?: string, z = 2) {
  return {
    type: 'line', name, xAxisIndex: axisIndex, yAxisIndex: axisIndex, data,
    showSymbol: false, symbol: 'none', smooth, z, silent: true,
    lineStyle: { color, width }, itemStyle: { color },
  };
}

export default function App() {
  const ref = useRef<HTMLDivElement>(null);

  useEffect(() => {
    if (!ref.current) return;
    const chart = echarts.init(ref.current, undefined, { renderer: 'svg' });

    const grids: any[] = [];
    const xAxes: any[] = [];
    const yAxes: any[] = [];
    PANEL_TOPS.forEach((top, i) => {
      grids.push({ left: TIME_LEFT, top, width: TIME_W, height: PANEL_H, show: true, borderColor: '#8a8a8a', borderWidth: 1 });
      grids.push({ left: PHASE_LEFT, top, width: PHASE_W, height: PANEL_H, show: true, borderColor: '#8a8a8a', borderWidth: 1 });
      xAxes.push(timeAxis(2 * i));
      xAxes.push(phaseAxis(2 * i + 1));
      yAxes.push(omegaAxis(2 * i, 20, 20));
      yAxes.push(omegaAxis(2 * i + 1, 18, 23));
    });

    const seriesA = [...A_HEAD, ...cyclesToPoints(A_PEAK_T, A_OFFSETS, A_CYCLES), ...A_TAIL];
    const seriesB = [...B_HEAD, ...cyclesToPoints(B_PEAK_T, B_OFFSETS, B_CYCLES), ...B_TAIL];
    const seriesC = [...C_HEAD, ...cyclesToPoints(C_PEAK_T, C_OFFSETS, C_CYCLES), ...C_TAIL];
    const seriesD = [...D_HEAD, ...cyclesToPoints(D_PEAK_T, D_OFFSETS, D_CYCLES), ...D_DECAY];

    const series = [
      lineSeries(0, seriesA, BLUE, 2, false, 'a-time'),
      lineSeries(1, [...PA_START, ...PA_LOOPS.flat()], BLUE, 1.4, 0.3, 'a-phase'),
      lineSeries(2, seriesB, BLUE, 2, 0.25, 'b-time'),
      lineSeries(3, [...PB_START, ...PB_LOOPS.flat()], BLUE, 2, 0.3, 'b-phase'),
      lineSeries(4, seriesC, BLUE, 2, 0.25, 'c-time'),
      lineSeries(5, [...PC_START, ...PC_LOOPS.flat()], BLUE, 1.5, 0.3, 'c-phase'),
      lineSeries(6, seriesD, BLUE, 1.5, 0.25, LEGEND_NAMES[0]),
      lineSeries(6, D_BLACK, BLACK, 2.6, 0.3, LEGEND_NAMES[1], 3),
      lineSeries(7, [...PD_START, ...PD_LOOPS.flat()], BLUE, 1.7, 0.3, LEGEND_NAMES[0]),
      lineSeries(7, PD_BLACK, BLACK, 3, 0.3, LEGEND_NAMES[1], 3),
    ];

    chart.setOption({
      animation: false,
      backgroundColor: '#ffffff',
      textStyle: { fontFamily: SERIF },
      grid: grids,
      xAxis: xAxes,
      yAxis: yAxes,
      legend: {
        data: LEGEND_NAMES, orient: 'vertical', left: 597, top: 693,
        itemWidth: 43, itemHeight: 12, itemGap: 11, selectedMode: false,
        itemStyle: { opacity: 0 },
        textStyle: { fontFamily: SERIF, fontSize: 22, color: '#000' },
      },
      graphic: PANEL_LABELS.map((text, i) => ({
        type: 'text', x: 31, y: PANEL_TOPS[i] + 79,
        style: { text, fontFamily: SERIF, fontSize: 24, fontWeight: 'bold', fill: '#000', align: 'center', verticalAlign: 'middle' },
      })),
      series,
    });

    return () => chart.dispose();
  }, []);

  return <div ref={ref} style={{ position: 'absolute', left: 0, top: 0, width: 1027, height: 902, background: '#fff' }} />;
}
